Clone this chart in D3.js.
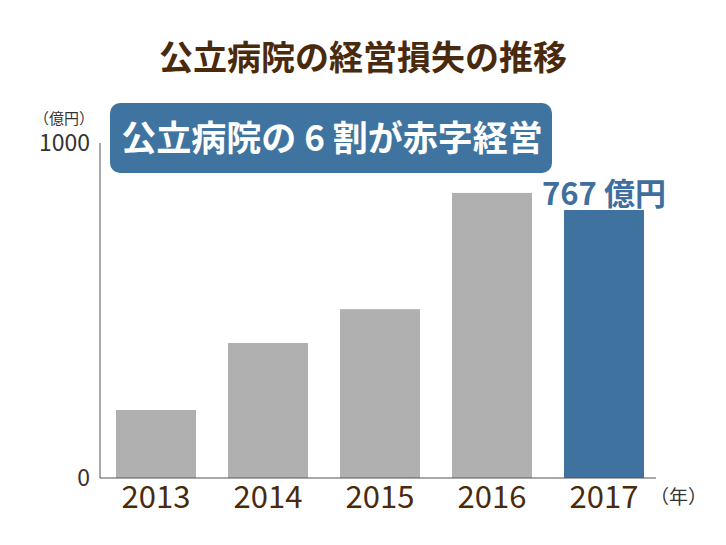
<!DOCTYPE html>
<html><head><meta charset="utf-8">
<script src="https://cdn.jsdelivr.net/npm/d3@7"></script>
<style>body{margin:0;background:#fff}</style></head>
<body><svg id="c" width="726" height="545"></svg>
<script>
const years = ["2013","2014","2015","2016","2017"];
const losses = [203, 403, 504, 851, 800];
const yTicks = [0, 1000];
const font = "'Noto Sans CJK JP', 'Noto Sans', sans-serif";
const svg = d3.select("#c");
const x = d3.scaleBand().domain(years).range([100, 660]).paddingInner(0.286).paddingOuter(0.143);
const y = d3.scaleLinear().domain([0, 1000]).range([478, 143]);
svg.append("text").attr("x", 363).attr("y", 70).attr("text-anchor", "middle")
  .attr("font-family", font).attr("font-weight", "bold").attr("font-size", 34).attr("fill", "#4a2a0c")
  .text("公立病院の経営損失の推移");
svg.selectAll("rect.bar").data(years).enter().append("rect")
  .attr("x", d => x(d)).attr("width", x.bandwidth())
  .attr("y", (d, i) => y(losses[i])).attr("height", (d, i) => y(0) - y(losses[i]))
  .attr("fill", (d, i) => i === 4 ? "#40729f" : "#b0b0b0");
svg.append("line").attr("x1", 100).attr("x2", 100).attr("y1", y(1000)).attr("y2", y(0)).attr("stroke", "#555");
svg.append("line").attr("x1", 100).attr("x2", 656).attr("y1", y(0)).attr("y2", y(0)).attr("stroke", "#555");
svg.selectAll("text.yt").data(yTicks).enter().append("text")
  .attr("x", 90).attr("y", d => y(d) + 8).attr("text-anchor", "end")
  .attr("font-family", font).attr("font-size", 23).attr("fill", "#333").text(d => d);
svg.append("text").attr("x", 94).attr("y", 124).attr("text-anchor", "end")
  .attr("font-family", font).attr("font-size", 15).attr("fill", "#333").text("（億円）");
svg.selectAll("text.xt").data(years).enter().append("text")
  .attr("x", d => x(d) + x.bandwidth() / 2).attr("y", 508).attr("text-anchor", "middle")
  .attr("font-family", font).attr("font-size", 31).attr("fill", "#4a2a0c").text(d => d);
svg.append("text").attr("x", 650).attr("y", 504)
  .attr("font-family", font).attr("font-size", 19).attr("fill", "#333").text("（年）");
svg.append("rect").attr("x", 110).attr("y", 103).attr("width", 442).attr("height", 70).attr("rx", 10)
  .attr("fill", "#3f74a0");
svg.append("text").attr("x", 332).attr("y", 151).attr("text-anchor", "middle")
  .attr("font-family", font).attr("font-weight", "bold").attr("font-size", 35).attr("fill", "#fff")
  .text("公立病院の 6 割が赤字経営");
svg.append("text").attr("x", 604).attr("y", y(losses[4]) - 5).attr("text-anchor", "middle")
  .attr("font-family", font).attr("font-weight", "bold").attr("font-size", 31).attr("fill", "#3f6f9e")
  .text("767 億円");
</script></body></html>
